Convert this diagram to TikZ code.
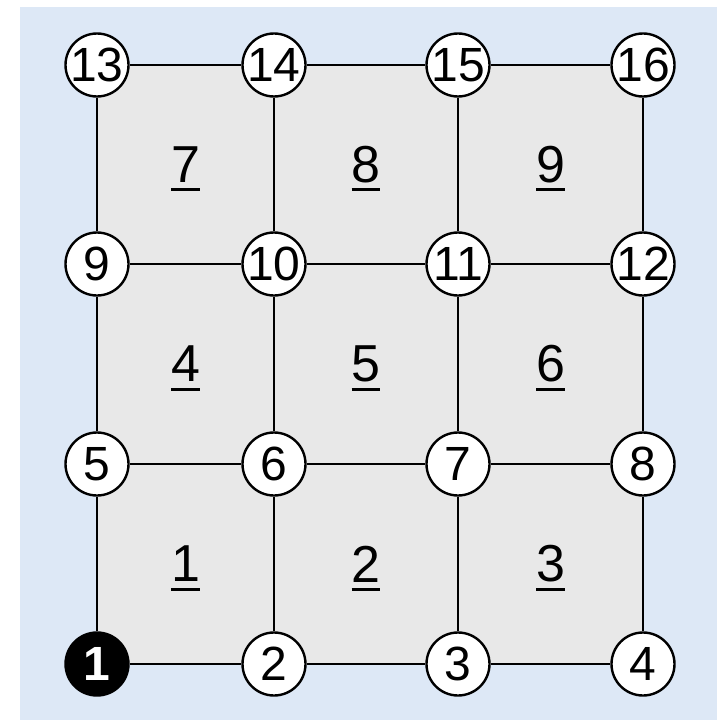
\documentclass[tikz,border=0pt]{standalone}
\usepackage{fontspec}
\setmainfont{Liberation Sans}
\usepackage{xcolor}
\usepackage{tikz}
\usetikzlibrary{positioning,calc}
\definecolor{paperblue}{RGB}{221,232,246}
\definecolor{cellgray}{RGB}{232,232,232}
\newcommand{\ulnum}[1]{\setbox0=\hbox{#1}\usebox0\llap{\smash{\rule[-9bp]{\wd0}{3bp}}}}
\newcommand{\GridNode}[3]{%
  \node[vert] (#1) at (#2) {\makebox[0pt]{#3}};
}
\newcommand{\ElemLabel}[3]{%
  \node[elem] (e#1) at ($(#2)!0.5!(#3)$) {\ulnum{#1}};
}

\begin{document}
\begin{tikzpicture}[x=1bp, y=-1bp,
  vert/.style={draw, circle, line width=2.4bp, fill=white, inner sep=0pt,
    minimum size=63bp, font=\fontsize{48bp}{52bp}\selectfont},
  elem/.style={inner sep=0pt, font=\fontsize{52bp}{56bp}\selectfont},
  mesh/.style={line width=2.2bp}]
  \useasboundingbox (0,0) rectangle (717,720);
  \fill[white] (0,0) rectangle (717,720);
  \fill[paperblue] (20,7) rectangle (717,720);
  \fill[cellgray] (97,65) rectangle (643,664);
  % nodes, bottom row first
  \node[vert, fill=black, text=white] (n1) at (97,664) {\makebox[0pt]{\bfseries 1}};
  \GridNode{n2}{274,664}{2}
  \GridNode{n3}{458,664}{3}
  \GridNode{n4}{643,664}{4}
  \GridNode{n5}{97,464}{5}
  \GridNode{n6}{274,464}{6}
  \GridNode{n7}{458,464}{7}
  \GridNode{n8}{643,464}{8}
  \GridNode{n9}{97,264}{9}
  \GridNode{n10}{274,264}{10}
  \GridNode{n11}{458,264}{11}
  \GridNode{n12}{643,264}{12}
  \GridNode{n13}{97,65}{13}
  \GridNode{n14}{274,65}{14}
  \GridNode{n15}{458,65}{15}
  \GridNode{n16}{643,65}{16}
  % mesh lines
  \draw[mesh] (n1) -- (n2);  \draw[mesh] (n2) -- (n3);  \draw[mesh] (n3) -- (n4);
  \draw[mesh] (n5) -- (n6);  \draw[mesh] (n6) -- (n7);  \draw[mesh] (n7) -- (n8);
  \draw[mesh] (n9) -- (n10); \draw[mesh] (n10) -- (n11); \draw[mesh] (n11) -- (n12);
  \draw[mesh] (n13) -- (n14); \draw[mesh] (n14) -- (n15); \draw[mesh] (n15) -- (n16);
  \draw[mesh] (n1) -- (n5);  \draw[mesh] (n5) -- (n9);  \draw[mesh] (n9) -- (n13);
  \draw[mesh] (n2) -- (n6);  \draw[mesh] (n6) -- (n10); \draw[mesh] (n10) -- (n14);
  \draw[mesh] (n3) -- (n7);  \draw[mesh] (n7) -- (n11); \draw[mesh] (n11) -- (n15);
  \draw[mesh] (n4) -- (n8);  \draw[mesh] (n8) -- (n12); \draw[mesh] (n12) -- (n16);
  % element numbers
  \ElemLabel{1}{n1}{n6}
  \ElemLabel{2}{n2}{n7}
  \ElemLabel{3}{n3}{n8}
  \ElemLabel{4}{n5}{n10}
  \ElemLabel{5}{n6}{n11}
  \ElemLabel{6}{n7}{n12}
  \ElemLabel{7}{n9}{n14}
  \ElemLabel{8}{n10}{n15}
  \ElemLabel{9}{n11}{n16}
\end{tikzpicture}
\end{document}
